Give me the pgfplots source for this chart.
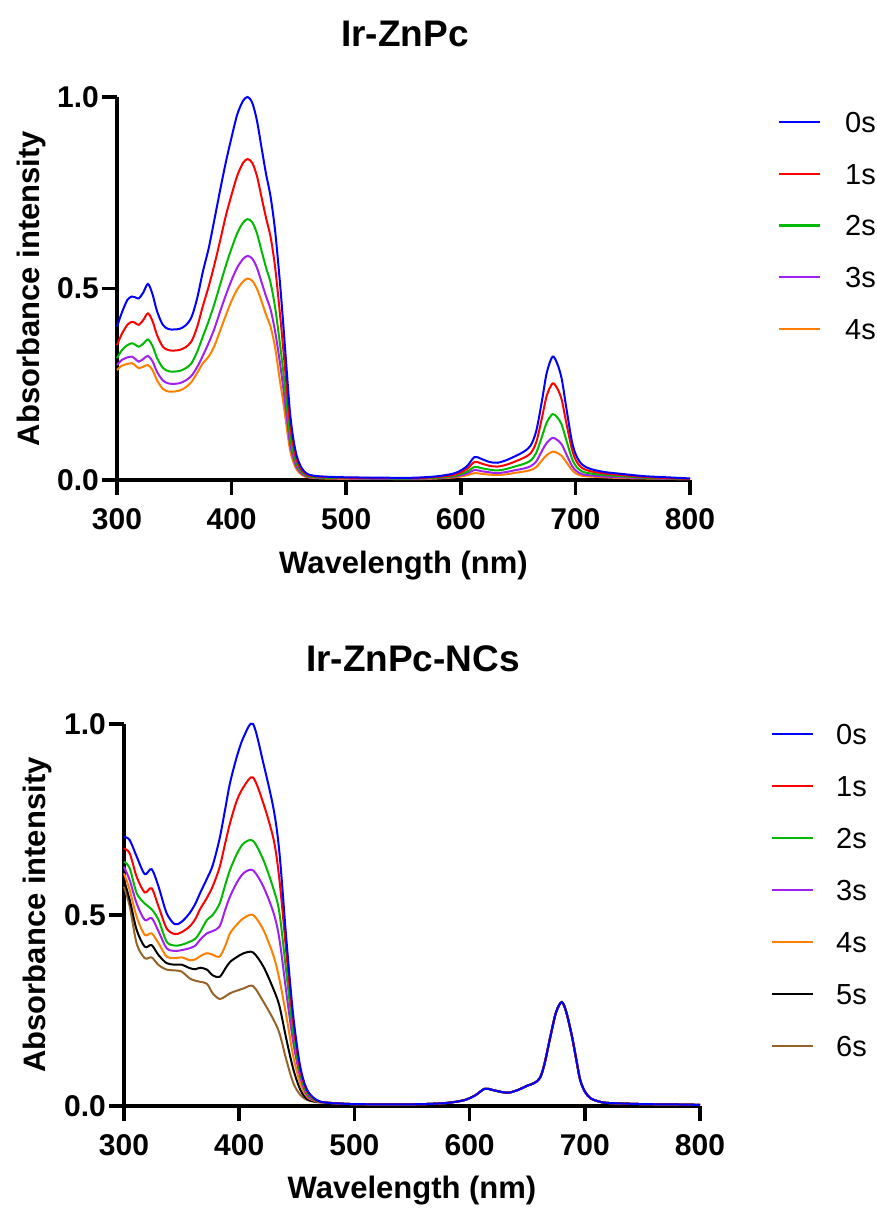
\documentclass[border=0pt]{standalone}
\usepackage{pgfplots}
\pgfplotsset{compat=1.18}
\usepackage{pgfplotstable}
\usepackage{fontspec}
\setmainfont{Liberation Sans}
\newfontfamily\plainbf{Liberation Sans Bold}

\definecolor{cblue}{RGB}{0,0,255}
\definecolor{cred}{RGB}{255,0,0}
\definecolor{cgreen}{RGB}{0,185,0}
\definecolor{cpurple}{RGB}{160,32,240}
\definecolor{corange}{RGB}{255,128,0}
\definecolor{cbrown}{RGB}{150,100,40}

\pgfplotstableread{
x s0 s1 s2 s3 s4
300 0.400 0.352 0.318 0.300 0.287
304 0.435 0.380 0.338 0.313 0.298
309 0.470 0.405 0.352 0.320 0.303
313 0.479 0.413 0.357 0.322 0.305
316 0.477 0.410 0.353 0.316 0.299
319 0.474 0.405 0.348 0.309 0.292
323 0.490 0.418 0.356 0.316 0.296
327 0.512 0.435 0.367 0.324 0.300
331 0.485 0.415 0.350 0.310 0.287
335 0.440 0.378 0.318 0.282 0.260
340 0.405 0.348 0.293 0.260 0.238
345 0.394 0.339 0.284 0.252 0.231
350 0.393 0.338 0.283 0.251 0.231
355 0.395 0.340 0.285 0.253 0.234
360 0.404 0.347 0.292 0.260 0.242
365 0.425 0.362 0.305 0.272 0.256
370 0.475 0.400 0.335 0.295 0.280
375 0.545 0.455 0.375 0.325 0.305
380 0.605 0.505 0.415 0.358 0.322
385 0.680 0.562 0.460 0.395 0.350
390 0.757 0.625 0.510 0.440 0.390
395 0.830 0.690 0.560 0.483 0.430
400 0.895 0.745 0.605 0.522 0.468
405 0.955 0.795 0.645 0.555 0.498
410 0.990 0.828 0.672 0.577 0.518
414 1.000 0.838 0.681 0.585 0.526
418 0.985 0.828 0.673 0.578 0.520
422 0.940 0.795 0.645 0.555 0.500
426 0.870 0.740 0.600 0.518 0.468
430 0.800 0.685 0.555 0.480 0.432
434 0.740 0.635 0.515 0.445 0.400
438 0.650 0.555 0.450 0.388 0.345
442 0.522 0.440 0.360 0.310 0.262
445 0.410 0.345 0.285 0.243 0.205
448 0.290 0.245 0.200 0.168 0.140
451 0.175 0.145 0.115 0.095 0.078
454 0.105 0.088 0.070 0.057 0.046
457 0.061 0.050 0.040 0.032 0.026
461 0.032 0.026 0.021 0.017 0.014
465 0.018 0.015 0.012 0.010 0.008
470 0.012 0.010 0.008 0.007 0.006
480 0.009 0.008 0.006 0.005 0.004
500 0.007 0.006 0.005 0.004 0.003
530 0.006 0.005 0.004 0.003 0.003
560 0.006 0.005 0.004 0.003 0.002
580 0.010 0.008 0.006 0.005 0.004
595 0.018 0.014 0.011 0.009 0.007
605 0.035 0.028 0.021 0.016 0.012
612 0.060 0.047 0.034 0.026 0.018
618 0.055 0.043 0.031 0.023 0.016
625 0.047 0.037 0.027 0.020 0.014
632 0.045 0.035 0.025 0.018 0.013
640 0.052 0.040 0.029 0.021 0.015
648 0.063 0.049 0.036 0.026 0.019
655 0.074 0.058 0.042 0.030 0.022
661 0.090 0.070 0.051 0.036 0.026
666 0.130 0.100 0.072 0.049 0.034
671 0.210 0.165 0.115 0.077 0.052
675 0.280 0.220 0.150 0.097 0.065
680 0.322 0.252 0.172 0.110 0.074
684 0.305 0.240 0.164 0.105 0.071
688 0.265 0.210 0.145 0.093 0.063
692 0.190 0.150 0.105 0.068 0.047
697 0.100 0.080 0.056 0.037 0.026
701 0.062 0.048 0.034 0.023 0.016
706 0.040 0.031 0.022 0.015 0.011
713 0.029 0.023 0.017 0.012 0.009
725 0.021 0.017 0.013 0.009 0.007
740 0.016 0.013 0.010 0.007 0.005
760 0.010 0.008 0.006 0.005 0.004
780 0.007 0.005 0.004 0.003 0.003
800 0.004 0.003 0.003 0.002 0.002
}\topdata

\pgfplotstableread{
x s0 s1 s2 s3 s4 s5 s6
300 0.705 0.674 0.640 0.626 0.609 0.591 0.574
305 0.696 0.661 0.622 0.591 0.565 0.539 0.522
311 0.653 0.600 0.557 0.530 0.495 0.461 0.425
318 0.607 0.559 0.530 0.487 0.448 0.417 0.387
324 0.620 0.570 0.515 0.492 0.452 0.421 0.389
330 0.574 0.522 0.487 0.457 0.426 0.395 0.369
337 0.505 0.465 0.430 0.413 0.391 0.374 0.357
344 0.476 0.450 0.420 0.406 0.387 0.370 0.355
350 0.482 0.455 0.422 0.408 0.389 0.370 0.352
357 0.505 0.470 0.430 0.413 0.382 0.361 0.334
362 0.530 0.490 0.438 0.420 0.384 0.358 0.328
366 0.557 0.515 0.455 0.435 0.392 0.362 0.325
372 0.595 0.545 0.487 0.452 0.400 0.357 0.320
377 0.630 0.575 0.500 0.458 0.396 0.342 0.295
383 0.700 0.625 0.530 0.470 0.391 0.338 0.280
388 0.780 0.690 0.580 0.515 0.420 0.360 0.287
392 0.845 0.740 0.618 0.548 0.452 0.377 0.295
398 0.915 0.800 0.660 0.585 0.475 0.390 0.302
404 0.967 0.836 0.688 0.610 0.492 0.400 0.308
412 1.000 0.860 0.694 0.617 0.500 0.402 0.314
421 0.897 0.792 0.644 0.574 0.461 0.365 0.273
430 0.775 0.696 0.566 0.504 0.391 0.304 0.225
435 0.661 0.590 0.504 0.435 0.330 0.261 0.190
441 0.434 0.400 0.347 0.295 0.234 0.174 0.120
447 0.234 0.216 0.190 0.165 0.129 0.096 0.060
453 0.103 0.094 0.085 0.076 0.059 0.043 0.029
459 0.042 0.038 0.033 0.028 0.024 0.018 0.016
467 0.016 0.015 0.014 0.013 0.012 0.011 0.010
475 0.009 0.009 0.009 0.009 0.009 0.009 0.009
490 0.006 0.006 0.006 0.006 0.006 0.006 0.006
500 0.005 0.005 0.005 0.005 0.005 0.005 0.005
530 0.004 0.004 0.004 0.004 0.004 0.004 0.004
560 0.005 0.005 0.005 0.005 0.005 0.005 0.005
580 0.008 0.008 0.008 0.008 0.008 0.008 0.008
595 0.015 0.015 0.015 0.015 0.015 0.015 0.015
605 0.028 0.028 0.028 0.028 0.028 0.028 0.028
613 0.045 0.045 0.045 0.045 0.045 0.045 0.045
620 0.042 0.042 0.042 0.042 0.042 0.042 0.042
627 0.037 0.037 0.037 0.037 0.037 0.037 0.037
634 0.035 0.035 0.035 0.035 0.035 0.035 0.035
642 0.042 0.042 0.042 0.042 0.042 0.042 0.042
650 0.053 0.053 0.053 0.053 0.053 0.053 0.053
656 0.060 0.060 0.060 0.060 0.060 0.060 0.060
661 0.073 0.073 0.073 0.073 0.073 0.073 0.073
665 0.110 0.110 0.110 0.110 0.110 0.110 0.110
670 0.180 0.180 0.180 0.180 0.180 0.180 0.180
675 0.245 0.245 0.245 0.245 0.245 0.245 0.245
680 0.272 0.272 0.272 0.272 0.272 0.272 0.272
684 0.245 0.245 0.245 0.245 0.245 0.245 0.245
689 0.180 0.180 0.180 0.180 0.180 0.180 0.180
693 0.115 0.115 0.115 0.115 0.115 0.115 0.115
696 0.068 0.068 0.068 0.068 0.068 0.068 0.068
700 0.038 0.038 0.038 0.038 0.038 0.038 0.038
705 0.020 0.020 0.020 0.020 0.020 0.020 0.020
712 0.012 0.012 0.012 0.012 0.012 0.012 0.012
720 0.008 0.008 0.008 0.008 0.008 0.008 0.008
750 0.005 0.005 0.005 0.005 0.005 0.005 0.005
780 0.004 0.004 0.004 0.004 0.004 0.004 0.004
800 0.003 0.003 0.003 0.003 0.003 0.003 0.003
}\botdata

\pgfplotsset{
  prism/.style={
    scale only axis,
    clip=false,
    xmin=300, xmax=800, ymin=0, ymax=1,
    axis x line*=bottom, axis y line*=left,
    axis line style={-, line width=3.5bp, black},
    tick align=outside,
    major tick length=15bp,
    every tick/.style={black, line width=3.5bp},
    xtick={300,400,500,600,700,800},
    xticklabels={300,400,500,600,700,800},
    ytick={0,0.5,1},
    yticklabels={0.0,0.5,1.0},
    tick label style={font=\fontsize{30bp}{30bp}\plainbf, inner sep=0pt},
    xticklabel shift=13bp,
    yticklabel shift=3bp,
    xlabel={Wavelength (nm)},
    ylabel={Absorbance intensity},
    xlabel style={font=\fontsize{31bp}{31bp}\plainbf, at={(axis description cs:0.5,-0.243)}, anchor=base, inner sep=0pt},
    ylabel style={font=\fontsize{31bp}{31bp}\plainbf, at={(axis description cs:-0.136,0.5)}, anchor=base, inner sep=0pt},
    title style={font=\fontsize{37bp}{37bp}\plainbf, anchor=base, inner sep=0pt},
    legend cell align=left,
    reverse legend,
    legend image code/.code={\draw[#1, line width=2.2bp] (0bp,0bp) -- (41bp,0bp);},
    every axis plot/.append style={line width=2bp, smooth, tension=0.5},
  }
}

\begin{document}
\begin{tikzpicture}
\path[use as bounding box] (0,0) rectangle (877bp,1208bp);

\begin{axis}[prism,
  at={(117bp,728bp)}, anchor=south west,
  width=573bp, height=383bp,
  title={Ir-ZnPc},
  title style={at={(axis description cs:0.5026,1.1175)}},
  legend style={draw=none, fill=none, inner sep=0pt, outer sep=0pt,
    anchor=north west, at={(axis description cs:1.1536,0.962)},
    row sep=30.7bp, column sep=24bp,
    font=\fontsize{29bp}{29bp}\selectfont,
    nodes={inner sep=0pt, text height=21bp, text depth=0bp}},
]
\addplot[color=corange] table[x=x,y=s4]{\topdata};
\addplot[color=cpurple] table[x=x,y=s3]{\topdata};
\addplot[color=cgreen] table[x=x,y=s2]{\topdata};
\addplot[color=cred] table[x=x,y=s1]{\topdata};
\addplot[color=cblue] table[x=x,y=s0]{\topdata};
\legend{4s,3s,2s,1s,0s}
\end{axis}

\begin{axis}[prism,
  at={(124bp,102bp)}, anchor=south west,
  width=576bp, height=382bp,
  title={Ir-ZnPc-NCs},
  title style={at={(axis description cs:0.5017,1.123)}},
  legend style={draw=none, fill=none, inner sep=0pt, outer sep=0pt,
    anchor=north west, at={(axis description cs:1.1233,1.0013)},
    row sep=31bp, column sep=22bp,
    font=\fontsize{29bp}{29bp}\selectfont,
    nodes={inner sep=0pt, text height=21bp, text depth=0bp}},
]
\addplot[color=cbrown] table[x=x,y=s6]{\botdata};
\addplot[color=black] table[x=x,y=s5]{\botdata};
\addplot[color=corange] table[x=x,y=s4]{\botdata};
\addplot[color=cpurple] table[x=x,y=s3]{\botdata};
\addplot[color=cgreen] table[x=x,y=s2]{\botdata};
\addplot[color=cred] table[x=x,y=s1]{\botdata};
\addplot[color=cblue] table[x=x,y=s0]{\botdata};
\legend{6s,5s,4s,3s,2s,1s,0s}
\end{axis}
\end{tikzpicture}
\end{document}
